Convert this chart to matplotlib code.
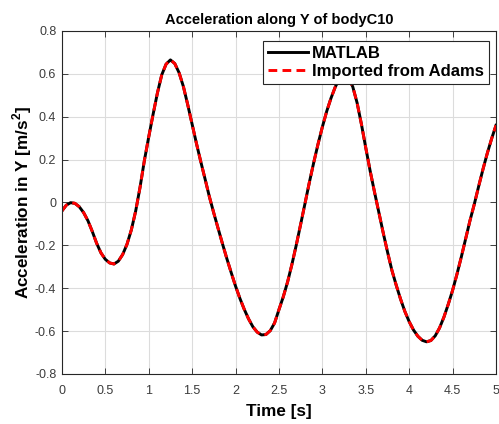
import numpy as np
import matplotlib
matplotlib.use("Agg")
import matplotlib.pyplot as plt

plt.rcParams['font.family'] = ['Liberation Sans', 'DejaVu Sans']
plt.rcParams['mathtext.fontset'] = 'custom'
plt.rcParams['mathtext.rm'] = 'Liberation Sans'
plt.rcParams['mathtext.bf'] = 'Liberation Sans:bold'

# time samples [s], every 0.05 s
time_s = [0.00, 0.05, 0.10, 0.15, 0.20, 0.25, 0.30, 0.35, 0.40, 0.45,
          0.50, 0.55, 0.60, 0.65, 0.70, 0.75, 0.80, 0.85, 0.90, 0.95,
          1.00, 1.05, 1.10, 1.15, 1.20, 1.25, 1.30, 1.35, 1.40, 1.45,
          1.50, 1.55, 1.60, 1.65, 1.70, 1.75, 1.80, 1.85, 1.90, 1.95,
          2.00, 2.05, 2.10, 2.15, 2.20, 2.25, 2.30, 2.35, 2.40, 2.45,
          2.50, 2.55, 2.60, 2.65, 2.70, 2.75, 2.80, 2.85, 2.90, 2.95,
          3.00, 3.05, 3.10, 3.15, 3.20, 3.25, 3.30, 3.35, 3.40, 3.45,
          3.50, 3.55, 3.60, 3.65, 3.70, 3.75, 3.80, 3.85, 3.90, 3.95,
          4.00, 4.05, 4.10, 4.15, 4.20, 4.25, 4.30, 4.35, 4.40, 4.45,
          4.50, 4.55, 4.60, 4.65, 4.70, 4.75, 4.80, 4.85, 4.90, 4.95,
          5.00]
# acceleration along Y [m/s^2]
acc_matlab = [-0.040, -0.013, -0.001, -0.004, -0.020, -0.047, -0.085, -0.135, -0.190, -0.235,
              -0.265, -0.282, -0.287, -0.274, -0.243, -0.195, -0.128, -0.040, 0.070, 0.195,
              0.305, 0.410, 0.510, 0.595, 0.645, 0.665, 0.648, 0.605, 0.540, 0.455,
              0.365, 0.275, 0.190, 0.108, 0.025, -0.050, -0.122, -0.193, -0.262, -0.327,
              -0.390, -0.447, -0.498, -0.543, -0.580, -0.605, -0.618, -0.616, -0.598, -0.562,
              -0.500, -0.440, -0.370, -0.288, -0.198, -0.102, -0.005, 0.093, 0.185, 0.272,
              0.352, 0.425, 0.487, 0.540, 0.578, 0.594, 0.582, 0.540, 0.465, 0.365,
              0.255, 0.148, 0.050, -0.045, -0.140, -0.230, -0.315, -0.385, -0.450, -0.508,
              -0.556, -0.595, -0.624, -0.643, -0.650, -0.644, -0.622, -0.585, -0.535, -0.475,
              -0.410, -0.335, -0.255, -0.170, -0.085, -0.008, 0.075, 0.155, 0.230, 0.298,
              0.360]
acc_adams = list(acc_matlab)

x_ticks = [0, 0.5, 1, 1.5, 2, 2.5, 3, 3.5, 4, 4.5, 5]
x_labels = ['0', '0.5', '1', '1.5', '2', '2.5', '3', '3.5', '4', '4.5', '5']
y_ticks = [-0.8, -0.6, -0.4, -0.2, 0, 0.2, 0.4, 0.6, 0.8]
y_labels = ['-0.8', '-0.6', '-0.4', '-0.2', '0', '0.2', '0.4', '0.6', '0.8']

fig = plt.figure(figsize=(4.99, 4.24), dpi=100)
ax = fig.add_axes([0.124, 0.118, 0.870, 0.809])

ax.plot(time_s, acc_matlab, color='black', lw=2.1, label='MATLAB')
ax.plot(time_s, acc_adams, color='red', lw=2.1, dashes=(3.0, 1.8),
        label='Imported from Adams')

ax.set_xlim(0, 5)
ax.set_ylim(-0.8, 0.8)
ax.set_xticks(x_ticks)
ax.set_xticklabels(x_labels)
ax.set_yticks(y_ticks)
ax.set_yticklabels(y_labels)

ax.grid(True, color='#dcdcdc', lw=0.8)
ax.set_axisbelow(True)
for s in ax.spines.values():
    s.set_color('#262626')
    s.set_linewidth(0.8)
ax.tick_params(direction='in', top=True, right=True, length=4, width=0.6,
               color='#262626', labelcolor='#3c3c3c', labelsize=9)
ax.tick_params(axis='x', pad=8)
ax.tick_params(axis='y', pad=4)

ax.set_title('Acceleration along Y of bodyC10', fontsize=10.5, fontweight='bold', pad=5)
ax.set_xlabel('Time [s]', fontsize=12.3, fontweight='bold', labelpad=5)
ax.set_ylabel(r'Acceleration in Y [m/s$^{\mathbf{2}}$]', fontsize=12.3, fontweight='bold',
              labelpad=1)

leg = ax.legend(loc='upper right', prop={'weight': 'bold', 'size': 12},
                frameon=True, fancybox=False, handlelength=2.4, handletextpad=0.25,
                borderpad=0.3, labelspacing=0.2, borderaxespad=0.0,
                bbox_to_anchor=(0.984, 0.971))
leg.get_frame().set_edgecolor('#262626')
leg.get_frame().set_linewidth(0.8)
leg.get_frame().set_alpha(1)

fig.savefig('out.png', dpi=100)
